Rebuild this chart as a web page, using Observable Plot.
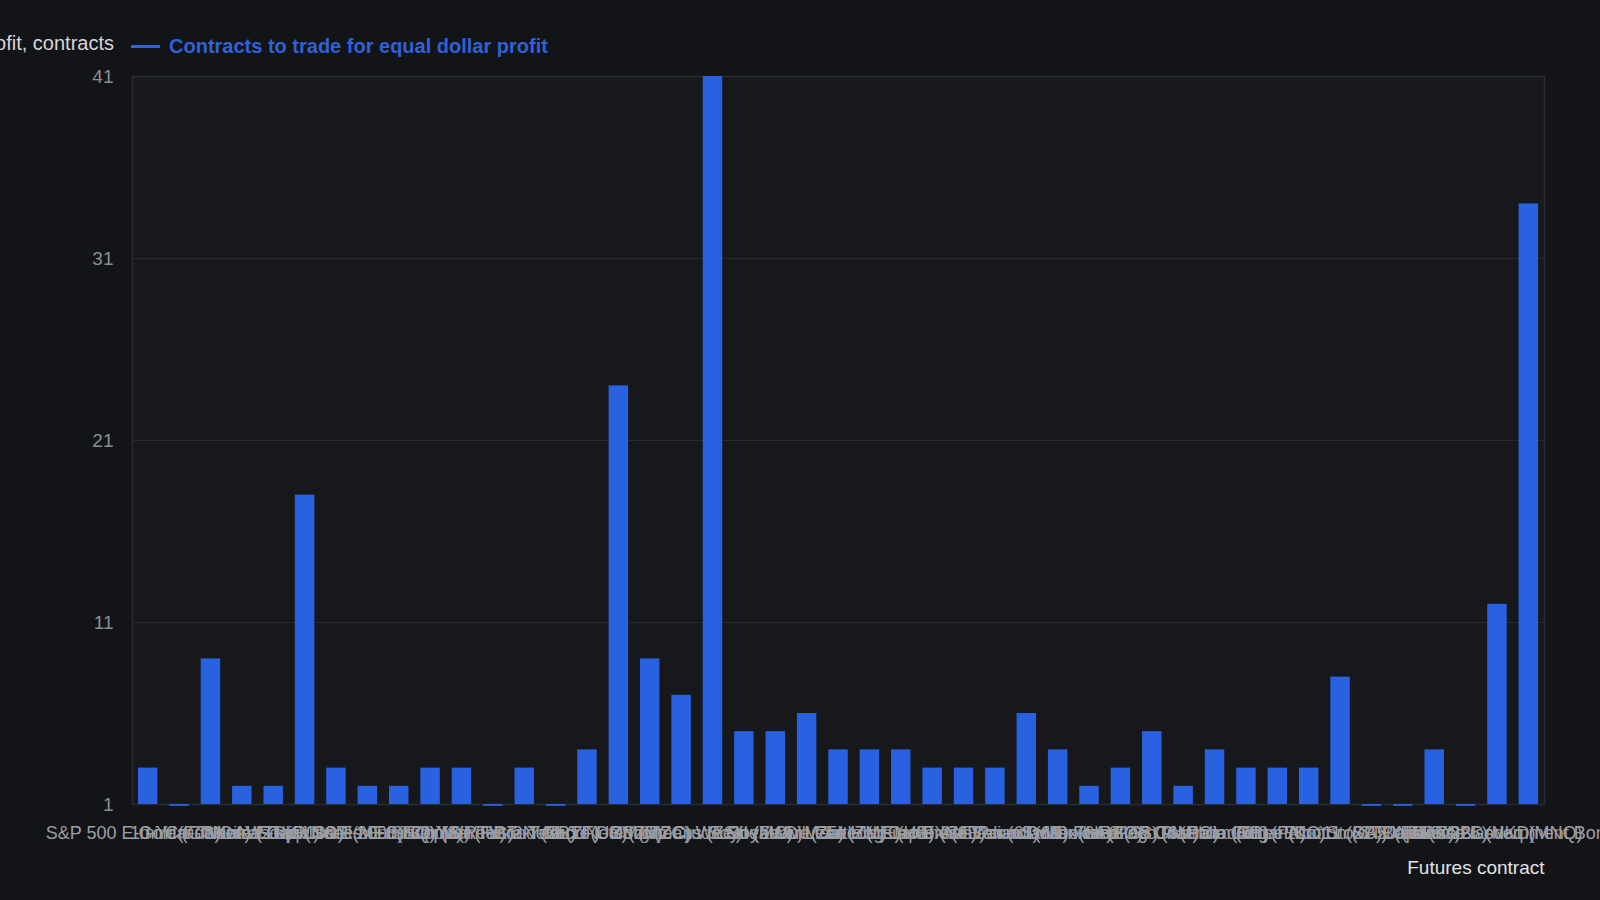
<!DOCTYPE html>
<html>
<head>
<meta charset="utf-8">
<script src="https://cdn.jsdelivr.net/npm/d3@7"></script>
<script src="https://cdn.jsdelivr.net/npm/@observablehq/plot@0.6"></script>
<style>
  html, body { margin: 0; padding: 0; background: #121418; width: 1600px; height: 900px; overflow: hidden; }
  body { font-family: "Liberation Sans", Arial, Helvetica, sans-serif; }
  #wrap { position: relative; width: 1600px; height: 900px; }
  #ylabel { position: absolute; right: 1486px; top: 31px; font-size: 20px; color: #d6d7da; white-space: nowrap; line-height: 24px; }
  #legend { position: absolute; left: 131px; top: 34px; display: flex; align-items: center; white-space: nowrap; line-height: 24px; }
  #legend .sw { width: 29px; height: 3px; background: #2f63da; margin-right: 9px; }
  #legend .lt { font-size: 20px; font-weight: bold; color: #2f62d6; }
  #chart { position: absolute; left: 0; top: 0; }
</style>
</head>
<body>
<div id="wrap">
  <div id="chart"></div>
  <div id="ylabel">Contracts to trade for equal dollar profit, contracts</div>
  <div id="legend"><div class="sw"></div><div class="lt">Contracts to trade for equal dollar profit</div></div>
</div>
<script>
const contracts = [
  "S&P 500 E-mini (Futures)", "Gold (GC)", "10-Year T-Note (ZN)", "Crude Oil WTI (CL)", "Natural Gas (NG)",
  "Micro E-mini S&P (MES)", "Nasdaq-100 E-mini (NQ)", "Dow Jones E-mini (YM)", "Russell 2000 E-mini (RTY)", "Silver (SI)",
  "Copper (HG)", "30-Year T-Bond (ZB)", "5-Year T-Note (ZF)", "Ultra T-Bond (UB)", "2-Year T-Note (ZT)",
  "Micro Gold (MGC)", "Corn (ZC)", "Soybeans (ZS)", "Micro Crude Oil (MCL)", "Wheat (ZW)",
  "Soybean Oil (ZL)", "Soybean Meal (ZM)", "Live Cattle (LE)", "Lean Hogs (HE)", "Feeder Cattle (GF)",
  "Euro FX (6E)", "Japanese Yen (6J)", "British Pound (6B)", "Australian Dollar (6A)", "Canadian Dollar (6C)",
  "Swiss Franc (6S)", "Mexican Peso (6M)", "Heating Oil (HO)", "RBOB Gasoline (RB)", "Platinum (PL)",
  "Palladium (PA)", "Coffee (KC)", "Sugar No. 11 (SB)", "Cotton (CT)", "Euro Stoxx 50 (FESX)",
  "DAX (FDAX)", "Bund (FGBL)", "Nikkei 225 (NKD)", "Micro Nasdaq (MNQ)", "Japanese Government Bonds (Jan)"
];
const contractsPerTrade = [
  3, 0.9, 9, 2, 2, 18, 3, 2, 2, 3,
  3, 0.9, 3, 0.9, 4, 24, 9, 7, 41, 5,
  5, 6, 4, 4, 4, 3, 3, 3, 6, 4,
  2, 3, 5, 2, 4, 3, 3, 3, 8, 0.9,
  0.9, 4, 0.9, 12, 34
];
const yTicks = [1, 11, 21, 31, 41];
const gridTicks = [11, 21, 31];
const xAxisLabel = ["Futures contract"];

const data = contracts.map((name, i) => ({name, value: contractsPerTrade[i]}));

const chart = Plot.plot({
  width: 1600,
  height: 900,
  marginTop: 76,
  marginBottom: 96,
  marginLeft: 132,
  marginRight: 56,
  style: { background: "transparent", fontFamily: "'Liberation Sans', Arial, sans-serif", overflow: "visible" },
  x: { domain: contracts, paddingInner: 0.38, paddingOuter: 0.19, round: false, label: null },
  y: { domain: [1, 41], label: null },
  marks: [
    Plot.frame({ fill: "#16181c", stroke: "#2a2c31", strokeWidth: 1.5 }),
    Plot.gridY(gridTicks, { stroke: "#272a2f", strokeOpacity: 1 }),
    Plot.barY(data, { x: "name", y1: 1, y2: "value", fill: "#2962e0" }),
    Plot.axisY(yTicks, { tickSize: 0, tickPadding: 19, fontSize: 19, fill: "#8b8e94", label: null }),
    Plot.axisX({ tickSize: 0, tickPadding: 22, fontSize: 18, fill: "#9c9ea4", label: null }),
    Plot.text(xAxisLabel, { text: d => d, frameAnchor: "bottom-right", dy: 69, fontSize: 19, fill: "#e2e3e6" })
  ]
});
document.getElementById("chart").appendChild(chart);
</script>
</body>
</html>
